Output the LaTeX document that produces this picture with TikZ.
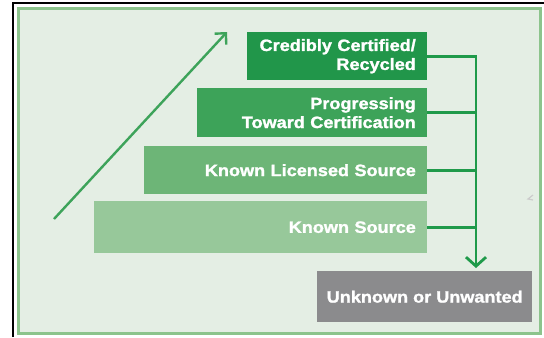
\documentclass[tikz,border=0pt]{standalone}
\usepackage{fontspec}
\setmainfont{Liberation Sans}[FakeStretch=1.1, BoldFeatures={FakeBold=1.5}]
\usetikzlibrary{arrows.meta}
\definecolor{bgc}{HTML}{E4EEE4}
\definecolor{frm}{HTML}{8CC48C}
\definecolor{gA}{HTML}{21964A}
\definecolor{gB}{HTML}{3DA359}
\definecolor{gC}{HTML}{6DB577}
\definecolor{gD}{HTML}{97C89A}
\definecolor{grayb}{HTML}{8B8B8D}
\definecolor{lnk}{HTML}{1F9A4A}
\definecolor{diag}{HTML}{3DA35A}
\tikzset{
  tier/.style={rectangle, inner xsep=11bp, inner ysep=0pt, align=right, text=white,
    font=\bfseries\fontsize{16.5}{19}\selectfont, anchor=north east},
  link/.style={draw=lnk, line width=2.8bp},
}
\begin{document}
\begin{tikzpicture}[x=1bp,y=-1bp]
\useasboundingbox (0,0) rectangle (544,337);
\fill[white] (0,0) rectangle (544,337);
% frame
\draw[black, line width=2bp] (13,337) -- (13,3) -- (544,3);
\draw[frm, line width=3bp, fill=bgc] (18.5,8.5) rectangle (540.5,333.5);
% tiers
\node[tier, fill=gA, text width=158bp, minimum height=48bp] (b1) at (427,32) {Credibly Certified/\\Recycled};
\node[tier, fill=gB, text width=208bp, minimum height=49bp] (b2) at (427,88) {Progressing\\Toward Certification};
\node[tier, fill=gC, text width=261bp, minimum height=48bp] (b3) at (427,146) {Known Licensed Source};
\node[tier, fill=gD, text width=311bp, minimum height=52bp] (b4) at (427,201) {Known Source};
\node[rectangle, fill=grayb, text=white, font=\bfseries\fontsize{16.5}{19}\selectfont,
  minimum width=215bp, minimum height=51bp, inner sep=0pt, anchor=north west] (un) at (317,271) {Unknown or Unwanted};
% connectors
\coordinate (tip) at (476,268);
\draw[link, -{Straight Barb[length=9bp,width=20bp,line width=2.8bp]}] (b1.east) -| (tip);
\draw[link] (b2.east) -- (b2.east -| tip);
\draw[link] (b3.east) -- (b3.east -| tip);
\draw[link] (b4.east) -- (b4.east -| tip);
% rising arrow
\coordinate (ds) at (54,219);
\coordinate (de) at (227,32);
\draw[diag, line width=2.4bp, -{Straight Barb[length=8bp,width=16bp,line width=2.4bp]}] (ds) -- (de);
% small mark at right edge
\draw[gray!40, line width=1.2bp] (533,195) -- (528,199) -- (533,200);
\end{tikzpicture}
\end{document}
